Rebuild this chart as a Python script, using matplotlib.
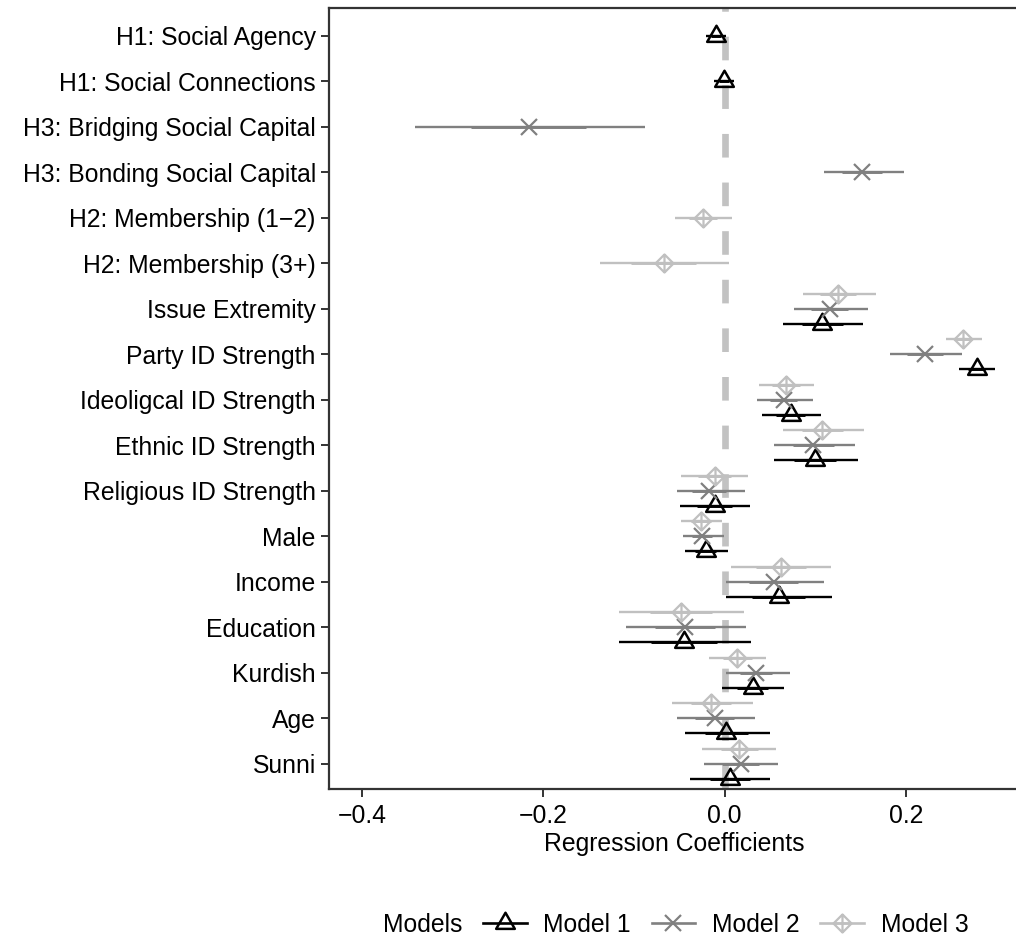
import matplotlib
matplotlib.use('Agg')
import matplotlib.pyplot as plt
import numpy as np
from matplotlib.path import Path
from matplotlib.lines import Line2D

plt.rcParams['font.family'] = ['Liberation Sans', 'DejaVu Sans']
plt.rcParams['lines.scale_dashes'] = False

nan = np.nan

# rows, top to bottom
labels = ['H1: Social Agency', 'H1: Social Connections', 'H3: Bridging Social Capital',
          'H3: Bonding Social Capital', 'H2: Membership (1\u22122)', 'H2: Membership (3+)',
          'Issue Extremity', 'Party ID Strength', 'Ideoligcal ID Strength', 'Ethnic ID Strength',
          'Religious ID Strength', 'Male', 'Income', 'Education', 'Kurdish', 'Age', 'Sunni']

# Model 1
m1_est = [-0.009, -0.001, nan, nan, nan, nan, 0.108, 0.278, 0.073, 0.100, -0.011, -0.021, 0.060, -0.045, 0.031, 0.002, 0.006]
m1_lo = [-0.020, -0.012, nan, nan, nan, nan, 0.064, 0.259, 0.041, 0.054, -0.049, -0.044, 0.002, -0.117, -0.003, -0.044, -0.038]
m1_hi = [0.002, 0.010, nan, nan, nan, nan, 0.153, 0.298, 0.106, 0.147, 0.028, 0.004, 0.119, 0.029, 0.066, 0.050, 0.050]

# Model 2
m2_est = [nan, nan, -0.216, 0.152, nan, nan, 0.116, 0.221, 0.065, 0.098, -0.017, -0.025, 0.054, -0.044, 0.035, -0.011, 0.018]
m2_lo = [nan, nan, -0.342, 0.110, nan, nan, 0.077, 0.183, 0.036, 0.054, -0.053, -0.046, 0.001, -0.109, 0.001, -0.053, -0.023]
m2_hi = [nan, nan, -0.088, 0.198, nan, nan, 0.158, 0.262, 0.097, 0.144, 0.022, -0.001, 0.110, 0.024, 0.072, 0.034, 0.059]

# Model 3
m3_est = [nan, nan, nan, nan, -0.024, -0.067, 0.125, 0.263, 0.068, 0.108, -0.011, -0.026, 0.062, -0.048, 0.014, -0.015, 0.016]
m3_lo = [nan, nan, nan, nan, -0.055, -0.138, 0.086, 0.244, 0.038, 0.064, -0.048, -0.048, 0.007, -0.116, -0.017, -0.058, -0.025]
m3_hi = [nan, nan, nan, nan, 0.008, 0.005, 0.167, 0.284, 0.099, 0.154, 0.026, -0.003, 0.117, 0.021, 0.046, 0.031, 0.057]

model_names = ['Model 1', 'Model 2', 'Model 3']

# marker shapes like ggplot's open triangle, cross and diamond-plus
tri = Path([(0, 0.577), (-0.5, -0.289), (0.5, -0.289), (0, 0.577)],
           [Path.MOVETO, Path.LINETO, Path.LINETO, Path.CLOSEPOLY])
dplus = Path([(0, 1), (1, 0), (0, -1), (-1, 0), (0, 1), (0, 1), (0, -1), (-1, 0), (1, 0)],
             [Path.MOVETO, Path.LINETO, Path.LINETO, Path.LINETO, Path.CLOSEPOLY,
              Path.MOVETO, Path.LINETO, Path.MOVETO, Path.LINETO])

styles = [
    dict(color='black', marker=tri, ms=15.5, mew=1.8),
    dict(color='#808080', marker='x', ms=12, mew=1.6),
    dict(color='#c0c0c0', marker=dplus, ms=13, mew=1.6),
]
series = [(m1_est, m1_lo, m1_hi), (m2_est, m2_lo, m2_hi), (m3_est, m3_lo, m3_hi)]

FS = 17.8

fig = plt.figure(figsize=(10.16, 9.41), dpi=100)
ax = fig.add_axes([329 / 1016, 1 - 789 / 941, 1 - 329 / 1016 + 0.003, (789 - 8) / 941])

ax.axvline(0, color='#c2c2c2', lw=4.8, ls=(0, (17, 18)), zorder=1)

n = len(labels)
dodge = 0.33
present = np.array([[not np.isnan(s[0][i]) for s in series] for i in range(n)])

for k, (est, lo, hi) in enumerate(series):
    st = styles[k]
    for i in range(n):
        if np.isnan(est[i]):
            continue
        # model 3 takes the upper slot, model 1 the lower one
        idx = [j for j in (2, 1, 0) if present[i, j]]
        pos = idx.index(k) - (len(idx) - 1) / 2
        y = i + pos * dodge
        half = (hi[i] - lo[i]) / 4
        ax.plot([lo[i], hi[i]], [y, y], color=st['color'], lw=1.7, solid_capstyle='butt', zorder=2)
        ax.plot([est[i] - half, est[i] + half], [y, y], color=st['color'], lw=2.1,
                solid_capstyle='butt', zorder=2)
        ax.plot([est[i]], [y], ls='none', marker=st['marker'], ms=st['ms'], mew=st['mew'],
                mec=st['color'], mfc='none', zorder=3)

ax.set_xlim(-0.4365, 0.3249)
ax.set_ylim(16.55, -0.615)
ax.set_yticks(range(n))
ax.set_yticklabels(labels)
ax.set_xticks([-0.4, -0.2, 0.0, 0.2])
ax.set_xticklabels(['\u22120.4', '\u22120.2', '0.0', '0.2'])
ax.tick_params(axis='both', labelsize=FS, length=6, width=1.4, color='#333333', labelcolor='black')
ax.tick_params(axis='y', pad=3.5)
ax.tick_params(axis='x', pad=5)
for side in ['left', 'top', 'bottom', 'right']:
    ax.spines[side].set_color('#333333')
    ax.spines[side].set_linewidth(1.6)
ax.set_xlabel('Regression Coefficients', fontsize=FS, labelpad=3)

handles = [Line2D([], [], color=s['color'], lw=1.9, marker=s['marker'], ms=s['ms'],
                  mew=s['mew'], mec=s['color'], mfc='none') for s in styles]
fig.text(383 / 1016, 1 - 925 / 941, 'Models', fontsize=FS, va='center', ha='left')
fig.legend(handles, model_names, loc='center left', bbox_to_anchor=(483 / 1016, 1 - 925 / 941),
           ncol=3, frameon=False, fontsize=FS, handlelength=1.76, handletextpad=0.68,
           columnspacing=0.84, borderaxespad=0, borderpad=0)

fig.savefig('out.png', dpi=100)
